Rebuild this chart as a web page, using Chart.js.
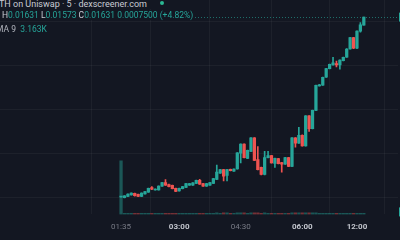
<!DOCTYPE html>
<html>
<head>
<meta charset="utf-8">
<script src="https://cdn.jsdelivr.net/npm/chart.js@4.4.1/dist/chart.umd.min.js"></script>
<style>
html, body { margin: 0; padding: 0; background: #131722; }
#wrap { position: relative; width: 400px; height: 240px; overflow: hidden; background: #131722; font-family: Roboto, "Noto Sans", sans-serif; }
#chart { position: absolute; left: 0; top: 0; }
.row { position: absolute; white-space: nowrap; font-size: 8.5px; line-height: 10px; color: #c9ccd4; background: #131722; }
.row .g { color: #26a69a; }
.row .m { color: #b2b5be; }
.dot { display: inline-block; width: 4px; height: 4px; border-radius: 50%; background: #2bb893; margin-left: 13px; vertical-align: 2px; }
</style>
</head>
<body>
<div id="wrap">
  <canvas id="chart" width="400" height="240"></canvas>
  <div class="row" id="r1" style="left:-1px;top:-1px;font-size:9px;">TH on Uniswap · 5 · dexscreener.com<span class="dot"></span></div>
  <div class="row" id="r2" style="left:-5px;top:10px;"><span class="g">3</span> H<span class="g">0.01631</span> L<span class="g">0.01573</span> C<span class="g">0.01631</span> <span class="g">0.0007500 (+4.82%)</span></div>
  <div class="row" id="r3" style="left:-4px;top:24px;"><span class="m">MA 9</span>&nbsp; <span class="g">3.163K</span></div>
</div>
<script>
// x axis labels (candle index -> time)
const tickIdx = [0, 17, 35, 53, 69];
const tickText = ["01:35", "03:00", "04:30", "06:00", "12:00"];
const tickBold = [false, true, false, true, true];

// horizontal grid levels
const gridPrices = [0.0032, 0.0064, 0.0096, 0.0128, 0.0160];

// 5 minute candles
const opens = [
    0.00327, 0.00322, 0.00332, 0.00343, 0.00353, 0.00346, 0.00332, 0.00350, 0.00362, 0.00395,
    0.00378, 0.00378, 0.00406, 0.00432, 0.00418, 0.00411, 0.00390, 0.00371, 0.00388, 0.00397,
    0.00413, 0.00413, 0.00425, 0.00448, 0.00425, 0.00406, 0.00413, 0.00425, 0.00455, 0.00500,
    0.00525, 0.00483, 0.00528, 0.00514, 0.00530, 0.00644, 0.00710, 0.00607, 0.00658, 0.00756,
    0.00598, 0.00542, 0.00490, 0.00612, 0.00628, 0.00570, 0.00605, 0.00577, 0.00565, 0.00612,
    0.00549, 0.00756, 0.00717, 0.00775, 0.00698, 0.00915, 0.00822, 0.00955, 0.01132, 0.01137,
    0.01195, 0.01258, 0.01284, 0.01295, 0.01284, 0.01316, 0.01340, 0.01400, 0.01482, 0.01405,
    0.01529, 0.01573
];
const highs = [
    0.00329, 0.00338, 0.00350, 0.00357, 0.00356, 0.00348, 0.00357, 0.00369, 0.00392, 0.00402,
    0.00387, 0.00408, 0.00434, 0.00453, 0.00420, 0.00413, 0.00392, 0.00392, 0.00404, 0.00427,
    0.00427, 0.00432, 0.00450, 0.00455, 0.00427, 0.00427, 0.00434, 0.00462, 0.00558, 0.00527,
    0.00527, 0.00527, 0.00530, 0.00532, 0.00649, 0.00712, 0.00712, 0.00667, 0.00758, 0.00758,
    0.00693, 0.00544, 0.00658, 0.00658, 0.00630, 0.00609, 0.00607, 0.00579, 0.00614, 0.00614,
    0.00758, 0.00758, 0.00833, 0.00777, 0.00917, 0.00917, 0.00957, 0.01139, 0.01143, 0.01197,
    0.01260, 0.01290, 0.01340, 0.01312, 0.01321, 0.01342, 0.01402, 0.01484, 0.01484, 0.01531,
    0.01592, 0.01631
];
const lows = [
    0.00325, 0.00320, 0.00330, 0.00341, 0.00334, 0.00330, 0.00330, 0.00348, 0.00360, 0.00381,
    0.00376, 0.00376, 0.00404, 0.00411, 0.00400, 0.00386, 0.00365, 0.00369, 0.00386, 0.00395,
    0.00411, 0.00411, 0.00423, 0.00418, 0.00404, 0.00404, 0.00411, 0.00423, 0.00453, 0.00498,
    0.00444, 0.00444, 0.00516, 0.00512, 0.00528, 0.00574, 0.00610, 0.00605, 0.00656, 0.00591,
    0.00523, 0.00488, 0.00488, 0.00610, 0.00572, 0.00542, 0.00566, 0.00507, 0.00563, 0.00547,
    0.00547, 0.00689, 0.00715, 0.00696, 0.00696, 0.00803, 0.00820, 0.00953, 0.01130, 0.01135,
    0.01193, 0.01256, 0.01282, 0.01270, 0.01253, 0.01314, 0.01338, 0.01398, 0.01403, 0.01403,
    0.01522, 0.01573
];
const closes = [
    0.00328, 0.00336, 0.00348, 0.00355, 0.00336, 0.00332, 0.00355, 0.00367, 0.00390, 0.00383,
    0.00385, 0.00406, 0.00432, 0.00413, 0.00402, 0.00388, 0.00367, 0.00390, 0.00402, 0.00425,
    0.00425, 0.00430, 0.00448, 0.00420, 0.00406, 0.00425, 0.00432, 0.00460, 0.00507, 0.00525,
    0.00479, 0.00525, 0.00518, 0.00530, 0.00647, 0.00710, 0.00612, 0.00665, 0.00756, 0.00593,
    0.00525, 0.00490, 0.00612, 0.00628, 0.00574, 0.00607, 0.00568, 0.00565, 0.00612, 0.00549,
    0.00756, 0.00717, 0.00775, 0.00698, 0.00915, 0.00822, 0.00955, 0.01137, 0.01141, 0.01195,
    0.01258, 0.01288, 0.01300, 0.01284, 0.01319, 0.01340, 0.01400, 0.01482, 0.01405, 0.01529,
    0.01575, 0.01631
];
const volumes = [
    100, 2, 2, 2, 2, 2, 2, 2, 2, 2,
    2, 2, 2, 2, 2, 2, 2, 2, 2, 2,
    2, 2, 2, 2, 2, 2, 2, 2, 3, 2,
    3, 3, 2, 2, 3, 3, 3, 2, 3, 3,
    3, 2, 3, 2, 2, 2, 2, 2, 2, 2,
    3, 3, 3, 3, 3, 3, 3, 3, 2, 2,
    2, 2, 2, 2, 2, 2, 2, 2, 2, 2,
    2, 2
];

const UP = "#26a69a";
const DOWN = "#ef5350";
const GRID = "rgba(255,255,255,0.045)";

const idx = opens.map((_, i) => i);
const isUp = idx.map(i => closes[i] >= opens[i]);
const bodies = idx.map(i => ({ x: i, y: [opens[i], closes[i]] }));
const wicks = idx.map(i => ({ x: i, y: [lows[i], highs[i]] }));
const vols = idx.map(i => ({ x: i, y: volumes[i] }));

function isBold(c) {
    return !!(c.tick && tickBold[tickIdx.indexOf(c.tick.value)]);
}

// last price dotted line + right edge markers
const priceLine = {
    id: "priceLine",
    beforeDatasetsDraw(chart) {
        const { ctx, chartArea, scales } = chart;
        const y = Math.round(scales.y.getPixelForValue(closes[closes.length - 1])) + 0.5;
        ctx.save();
        ctx.strokeStyle = "rgba(38,166,154,0.6)";
        ctx.lineWidth = 1;
        ctx.setLineDash([1, 2]);
        ctx.beginPath();
        ctx.moveTo(chartArea.left, y);
        ctx.lineTo(chartArea.right, y);
        ctx.stroke();
        ctx.restore();
    },
    afterDraw(chart) {
        const { ctx, chartArea, scales } = chart;
        const y = scales.y.getPixelForValue(closes[closes.length - 1]);
        const vy = scales.yv.getPixelForValue(0);
        ctx.save();
        ctx.fillStyle = UP;
        ctx.fillRect(chartArea.right + 1, y - 4.5, 4, 9);
        ctx.fillRect(chartArea.right + 1, vy - 7, 4, 9);
        ctx.restore();
    }
};

new Chart(document.getElementById("chart"), {
    type: "bar",
    data: {
        datasets: [
            {
                data: bodies,
                backgroundColor: idx.map(i => isUp[i] ? UP : DOWN),
                barThickness: 2.6,
                minBarLength: 1,
                grouped: false,
                order: 1
            },
            {
                data: wicks,
                backgroundColor: idx.map(i => isUp[i] ? UP : DOWN),
                barThickness: 1,
                grouped: false,
                order: 2
            },
            {
                data: vols,
                yAxisID: "yv",
                backgroundColor: idx.map(i => isUp[i] ? "rgba(38,166,154,0.45)" : "rgba(239,83,80,0.45)"),
                barThickness: 2.6,
                grouped: false,
                order: 3
            }
        ]
    },
    options: {
        responsive: false,
        animation: false,
        events: [],
        layout: { padding: { left: 0, right: 2, top: 0, bottom: 0 } },
        plugins: { legend: { display: false }, tooltip: { enabled: false } },
        scales: {
            x: {
                type: "linear",
                min: -35.4,
                max: 81,
                offset: false,
                afterBuildTicks: axis => { axis.ticks = tickIdx.map(v => ({ value: v })); },
                grid: { color: GRID, drawTicks: false },
                border: { display: false },
                ticks: {
                    padding: 8,
                    maxRotation: 0,
                    autoSkip: false,
                    callback: v => tickText[tickIdx.indexOf(v)],
                    color: c => isBold(c) ? "#c3c6ce" : "#787b86",
                    font: c => ({ family: "Roboto", size: 8, weight: isBold(c) ? "bold" : "normal" })
                }
            },
            y: {
                position: "right",
                min: 0.00201,
                max: 0.01755,
                afterBuildTicks: axis => { axis.ticks = gridPrices.map(v => ({ value: v })); },
                grid: { color: GRID, drawTicks: false },
                border: { display: false },
                ticks: { display: false }
            },
            yv: {
                display: false,
                min: 0,
                max: 400
            }
        }
    },
    plugins: [priceLine]
});
</script>
</body>
</html>
